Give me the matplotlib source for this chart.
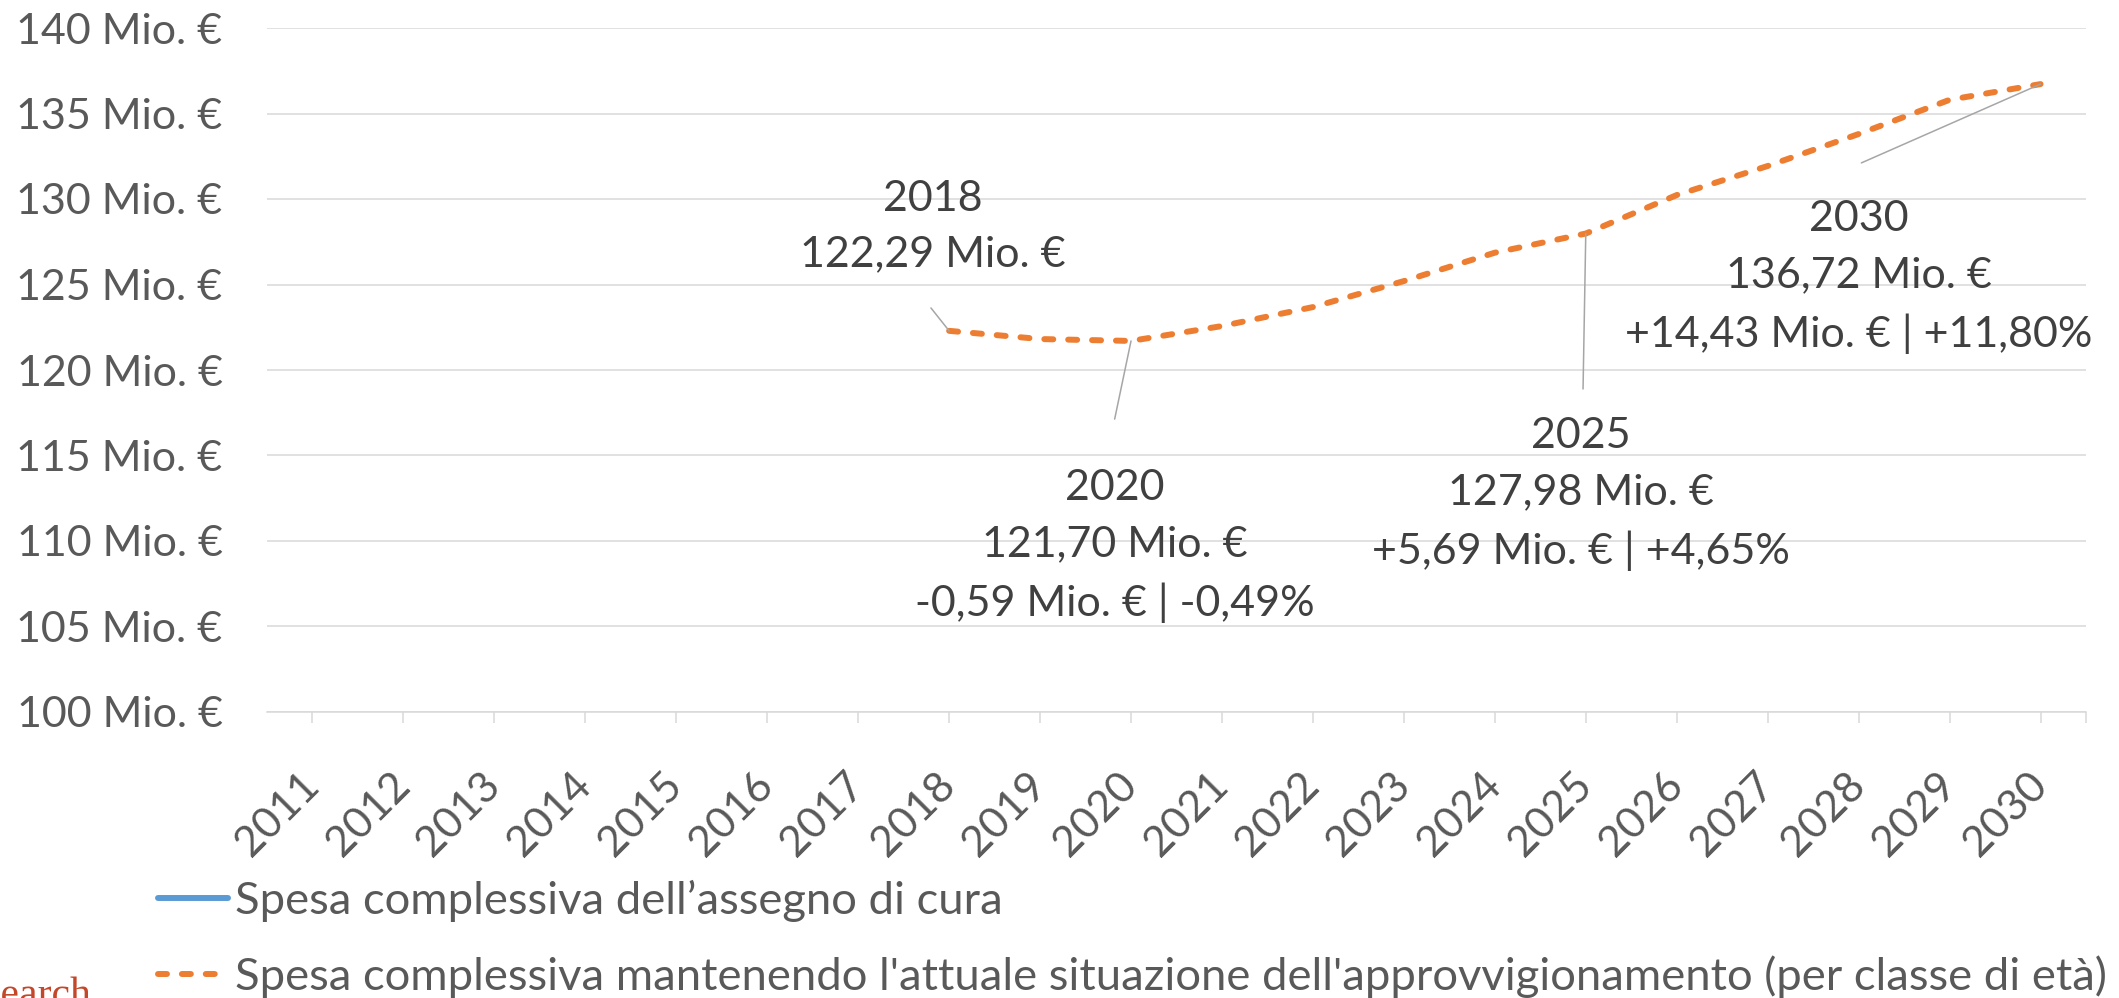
import matplotlib
matplotlib.use("Agg")
import matplotlib.pyplot as plt
from matplotlib.ticker import FixedLocator

plt.rcParams["font.family"] = ["Lato", "DejaVu Sans"]

# Category axis and projected spending (Mio. €)
years = list(range(2011, 2031))
proj_years = [2018, 2019, 2020, 2021, 2022, 2023, 2024, 2025, 2026, 2027, 2028, 2029, 2030]
proj_values = [122.29, 121.81, 121.70, 122.57, 123.68, 125.20, 126.86,
               127.98, 130.23, 131.93, 133.80, 135.80, 136.72]

y_ticks = [100, 105, 110, 115, 120, 125, 130, 135, 140]

series_labels = [
    "Spesa complessiva dell\u2019assegno di cura",
    "Spesa complessiva mantenendo l'attuale situazione dell'approvvigionamento (per classe di età)",
]

# Highlighted years with their label text
note_years = [2018, 2020, 2025, 2030]
note_texts = [
    "2018\n122,29 Mio. €",
    "2020\n121,70 Mio. €\n-0,59 Mio. € | -0,49%",
    "2025\n127,98 Mio. €\n+5,69 Mio. € | +4,65%",
    "2030\n136,72 Mio. €\n+14,43 Mio. € | +11,80%",
]
note_text_pos = [(2017.82, 128.39), (2019.82, 109.71), (2024.95, 112.75), (2028.0, 125.44)]
note_leader_start = [(2017.80, 123.63), (2019.82, 117.13), (2024.97, 118.89), (2028.03, 132.11)]

BLUE = "#5B9BD5"
ORANGE = "#ED7D31"
GRID = "#D9D9D9"
AXIS_TEXT = "#595959"
NOTE_TEXT = "#404040"

W, H = 2119, 998
fig = plt.figure(figsize=(W / 100, H / 100), dpi=100)
ax = fig.add_axes([267 / W, 1 - 712 / H, (2086 - 267) / W, (712 - 28) / H])

dash = (0, (1.5, 2.5))
ax.plot([], [], color=BLUE, linewidth=4.3, solid_capstyle="round", label=series_labels[0])
ax.plot(proj_years, proj_values, color=ORANGE, linewidth=4.3, linestyle=dash,
        dash_capstyle="round", label=series_labels[1], zorder=3)

ax.set_xlim(2010.5, 2030.5)
ax.set_ylim(100, 140)

ax.set_yticks(y_ticks)
ax.set_yticklabels([f"{v} Mio. €" for v in y_ticks])
ax.grid(axis="y", color=GRID, linewidth=1.1)
ax.set_axisbelow(True)

ax.set_xticks(years)
ax.set_xticklabels([str(y) for y in years], rotation=45, ha="right",
                   rotation_mode="anchor", va="center")
ax.xaxis.set_minor_locator(FixedLocator([2030.5]))

for side in ["top", "right", "left"]:
    ax.spines[side].set_visible(False)
ax.spines["bottom"].set_color(GRID)
ax.spines["bottom"].set_linewidth(1.1)

ax.tick_params(axis="y", length=0, pad=32, labelsize=31, labelcolor=AXIS_TEXT)
ax.tick_params(axis="x", which="both", direction="out", length=8, width=1.1,
               color=GRID, pad=40, labelsize=31, labelcolor=AXIS_TEXT)

# Labels with leader lines for the highlighted years
for yr, txt, tpos, lstart in zip(note_years, note_texts, note_text_pos, note_leader_start):
    val = proj_values[proj_years.index(yr)]
    ax.annotate("", xy=(yr, val), xytext=lstart,
                arrowprops=dict(arrowstyle="-", color="#A6A6A6", linewidth=1.1,
                                shrinkA=0, shrinkB=0))
    ax.text(tpos[0], tpos[1], txt, ha="center", va="center", fontsize=31,
            color=NOTE_TEXT, linespacing=1.58, multialignment="center")

leg = fig.legend(loc="upper left", bbox_to_anchor=(158 / W, 1 - 880 / H),
                 frameon=False, fontsize=32.7, handlelength=1.55, handletextpad=0.15,
                 labelspacing=0.72, borderpad=0, borderaxespad=0)
for t in leg.get_texts():
    t.set_color(AXIS_TEXT)

fig.text(92 / W, -8 / H, "Research", ha="right", va="baseline", fontsize=30,
         color="#C4472A", family="Liberation Serif")

fig.savefig("out.png", dpi=100)
